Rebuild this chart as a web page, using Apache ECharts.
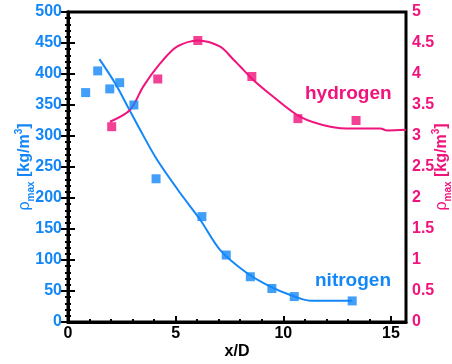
<!DOCTYPE html>
<html>
<head>
<meta charset="utf-8">
<style>
html,body{margin:0;padding:0;background:#fff;}
#c{width:452px;height:364px;}
</style>
<script src="https://cdn.jsdelivr.net/npm/echarts@6/dist/echarts.min.js"></script>
</head>
<body>
<div id="c"></div>
<script>
// ---- data ----
var xMajorTicks = [0, 5, 10, 15];
var xMinorTicks = [1,2,3,4,6,7,8,9,11,12,13,14];
var nitrogenX = [0.82, 1.38, 1.94, 2.40, 3.06, 4.09, 6.22, 7.35, 8.47, 9.47, 10.51, 13.2];
var nitrogenY = [370, 405, 376, 386, 350, 231, 170, 108, 73, 54, 41, 34];
var nitrogenFitX = [1.46, 2.19, 2.81, 3.35, 4.13, 5.21, 6.14, 7.07, 8.31, 9.4, 10.33, 11.26, 12.2, 13.2];
var nitrogenFitY = [424, 385, 345, 310, 262, 208, 165, 116, 79, 57, 43.5, 34.4, 34.4, 34.4];
var hydrogenX = [2.03, 4.17, 6.03, 8.54, 10.68, 13.38];
var hydrogenY = [3.15, 3.92, 4.54, 3.96, 3.28, 3.25];
var hydrogenFitX = [1.95, 2.88, 3.5, 4.28, 5.06, 6.03, 7.07, 7.69, 8.0, 8.62, 9.55, 10.79, 12.19, 13.27, 14.51, 14.82, 15.7];
var hydrogenFitY = [3.23, 3.42, 3.8, 4.17, 4.44, 4.54, 4.44, 4.23, 4.12, 3.9, 3.63, 3.31, 3.15, 3.12, 3.12, 3.09, 3.1];

function pairs(xs, ys){ return xs.map(function(x,i){ return [x, ys[i]]; }); }

var BLUE = '#1387f7';
var PINK = '#f0137c';
var FONT = '"Liberation Sans", Arial, sans-serif';

var chart = echarts.init(document.getElementById('c'), null, {renderer:'canvas'});

function nameRich(color){
  return {
    fontFamily: FONT, color: color, fontSize: 16, fontWeight: 'bold',
    rich: {
      rho: {fontFamily: FONT, color: color, fontSize: 16, fontWeight: 'normal', lineHeight: 22, verticalAlign: 'middle'},
      sub: {fontFamily: FONT, color: color, fontSize: 10, fontWeight: 'bold', lineHeight: 22, verticalAlign: 'bottom'},
      b: {fontFamily: FONT, color: color, fontSize: 16, fontWeight: 'bold', lineHeight: 22, verticalAlign: 'middle'},
      sup: {fontFamily: FONT, color: color, fontSize: 10, fontWeight: 'bold', lineHeight: 22, verticalAlign: 'top'}
    }
  };
}

var option = {
  animation: false,
  backgroundColor: '#fff',
  grid: {left: 68, right: 46, top: 12, bottom: 42, containLabel: false, outerBoundsMode: 'none',
         show: true, borderColor: '#000', borderWidth: 3, backgroundColor: 'transparent'},
  xAxis: [{
    type: 'value', min: 0, max: 15.7, position: 'bottom',
    name: 'x/D', nameLocation: 'middle', nameGap: 22, nameMoveOverlap: false,
    nameTextStyle: {fontFamily: FONT, fontSize: 16, fontWeight: 'bold', color: '#000'},
    axisLine: {show: true, lineStyle: {color: '#000', width: 3}},
    axisTick: {show: true, inside: true, length: 6, customValues: xMajorTicks, lineStyle: {color: '#000', width: 2}},
    axisLabel: {customValues: xMajorTicks, fontFamily: FONT, fontSize: 16, fontWeight: 'bold', color: '#000', margin: 4},
    splitLine: {show: false}
  }, {
    type: 'value', min: 0, max: 15.7, position: 'bottom', gridIndex: 0,
    axisLine: {show: false},
    axisTick: {show: true, inside: true, length: 3, customValues: xMinorTicks, lineStyle: {color: '#000', width: 2}},
    axisLabel: {show: false},
    splitLine: {show: false}
  }],
  yAxis: [{
    type: 'value', min: 0, max: 500, interval: 50, position: 'left',
    name: '{rho|ρ}{sub|max}{b| [kg/m}{sup|3}{b|]}', nameLocation: 'middle', nameGap: 32, nameRotate: 90,
    nameMoveOverlap: false,
    nameTextStyle: nameRich(BLUE),
    axisLine: {show: true, lineStyle: {color: '#000', width: 3}},
    axisTick: {show: true, inside: true, length: 7, lineStyle: {color: '#000', width: 2}},
    minorTick: {show: true, splitNumber: 5, length: 3, lineStyle: {color: '#000', width: 2}},
    axisLabel: {fontFamily: FONT, fontSize: 16, fontWeight: 'bold', color: BLUE, margin: 6},
    splitLine: {show: false}
  }, {
    type: 'value', min: 0, max: 5, interval: 0.5, position: 'right',
    name: '{rho|ρ}{sub|max}{b| [kg/m}{sup|3}{b|]}', nameLocation: 'middle', nameGap: 25, nameRotate: 90,
    nameMoveOverlap: false,
    nameTextStyle: nameRich(PINK),
    axisLine: {show: true, lineStyle: {color: '#000', width: 3}},
    axisTick: {show: true, inside: true, length: 7, lineStyle: {color: '#000', width: 2}},
    minorTick: {show: true, splitNumber: 5, length: 3, lineStyle: {color: '#000', width: 2}},
    axisLabel: {fontFamily: FONT, fontSize: 16, fontWeight: 'bold', color: PINK, margin: 6},
    splitLine: {show: false}
  }],
  series: [{
    name: 'nitrogen fit', type: 'line', xAxisIndex: 0, yAxisIndex: 0,
    data: pairs(nitrogenFitX, nitrogenFitY), smooth: 0.3, showSymbol: false,
    lineStyle: {color: BLUE, width: 2}, z: 2
  }, {
    name: 'hydrogen fit', type: 'line', xAxisIndex: 0, yAxisIndex: 1,
    data: pairs(hydrogenFitX, hydrogenFitY), smooth: 0.3, showSymbol: false,
    lineStyle: {color: PINK, width: 2}, z: 2
  }, {
    name: 'nitrogen', type: 'scatter', xAxisIndex: 0, yAxisIndex: 0,
    data: pairs(nitrogenX, nitrogenY), symbol: 'rect', symbolSize: 9,
    itemStyle: {color: BLUE}, z: 3
  }, {
    name: 'hydrogen', type: 'scatter', xAxisIndex: 0, yAxisIndex: 1,
    data: pairs(hydrogenX, hydrogenY), symbol: 'rect', symbolSize: 9,
    itemStyle: {color: PINK}, z: 3
  }],
  graphic: [{
    type: 'text', left: 305, top: 84,
    style: {text: 'hydrogen', fontFamily: FONT, fontSize: 19, fontWeight: 'bold', fill: PINK}
  }, {
    type: 'text', left: 315, top: 271,
    style: {text: 'nitrogen', fontFamily: FONT, fontSize: 19, fontWeight: 'bold', fill: BLUE}
  }]
};
chart.setOption(option);
</script>
</body>
</html>
